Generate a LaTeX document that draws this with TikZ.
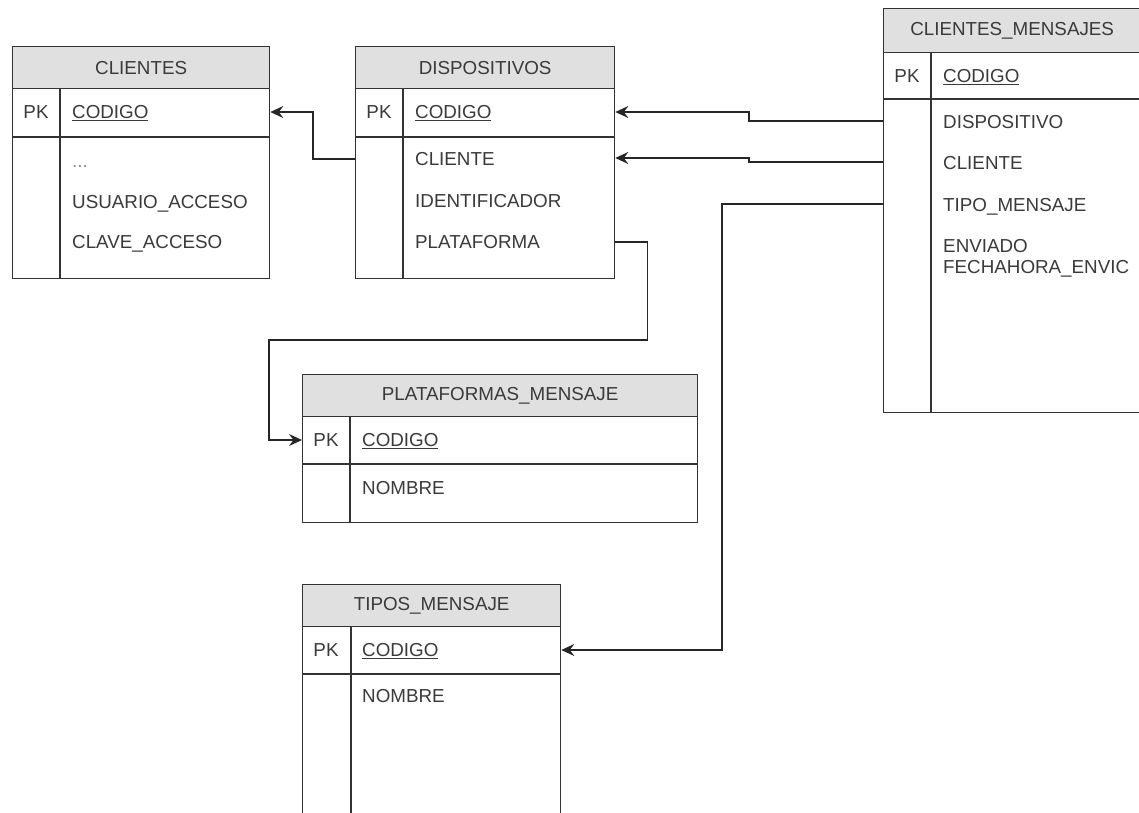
\documentclass[tikz,border=0pt]{standalone}
\usepackage{fontspec}
\setmainfont{Liberation Sans}
\usetikzlibrary{arrows.meta}
\definecolor{linec}{HTML}{333333}
\definecolor{textc}{HTML}{3A3A3A}
\definecolor{hdrfill}{HTML}{E0E0E0}
\tikzset{
  tblbox/.style={draw=linec, line width=1.3pt, fill=white, rectangle, inner sep=0pt, anchor=north west},
  hdrbox/.style={draw=linec, line width=1.3pt, fill=hdrfill, rectangle, inner sep=0pt, anchor=north west,
                 text=textc, font=\fontsize{18.8}{22}\selectfont},
  tblline/.style={draw=linec, line width=1.3pt},
  fld/.style={inner sep=0pt, text height=13.4pt, text depth=0pt, anchor=west, text=textc,
              font=\fontsize{18.8}{22}\selectfont},
  pk/.style={inner sep=0pt, text height=13.4pt, text depth=0pt, anchor=center, text=textc,
              font=\fontsize{18.8}{22}\selectfont},
  conn/.style={draw=black!85, line width=1.3pt, -{Stealth[length=13pt,width=12pt,inset=4.5pt]}},
}
\begin{document}
\begin{tikzpicture}[x=1pt,y=-1pt]
\useasboundingbox (0,0) rectangle (1139,812);
\clip (0,0) rectangle (1139,812);

% ---------- CLIENTES ----------
\node[tblbox, minimum width=257pt, minimum height=232pt] (cli) at (12,46) {};
\node[hdrbox, minimum width=257pt, minimum height=42pt] (clih) at (12,46) {CLIENTES};
\draw[tblline] (12,137) -- (269,137);
\draw[tblline] (60,88) -- (60,278);
\node[pk] (clipkl) at (36,112) {PK};
\node[fld] (clipk) at (72,112) {\underline{CODIGO}};
\node[fld, text=black!45] (clidots) at (72,161) {...};
\node[fld] (cliusr) at (72,202) {USUARIO\_ACCESO};
\node[fld] (clicla) at (72,242) {CLAVE\_ACCESO};

% ---------- DISPOSITIVOS ----------
\node[tblbox, minimum width=259pt, minimum height=232pt] (disp) at (355,46) {};
\node[hdrbox, minimum width=259pt, minimum height=42pt] (disph) at (355,46) {DISPOSITIVOS};
\draw[tblline] (355,137) -- (614,137);
\draw[tblline] (403,88) -- (403,278);
\node[pk] (dpkl) at (379,112) {PK};
\node[fld] (dpk) at (415,112) {\underline{CODIGO}};
\node[fld] (dcli) at (415,159) {CLIENTE};
\node[fld] (dide) at (415,201) {IDENTIFICADOR};
\node[fld] (dplat) at (415,242) {PLATAFORMA};

% ---------- CLIENTES_MENSAJES ----------
\node[tblbox, minimum width=257pt, minimum height=404pt] (cm) at (883,8) {};
\node[hdrbox, minimum width=257pt, minimum height=44pt] (cmh) at (883,8) {CLIENTES\_MENSAJES};
\draw[tblline] (883,99) -- (1140,99);
\draw[tblline] (931,52) -- (931,412);
\node[pk] (cmpkl) at (907,76) {PK};
\node[fld] (cmpk) at (943,76) {\underline{CODIGO}};
\node[fld] (cmdisp) at (943,122) {DISPOSITIVO};
\node[fld] (cmcli) at (943,163) {CLIENTE};
\node[fld] (cmtipo) at (943,205) {TIPO\_MENSAJE};
\node[fld] (cmenv) at (943,246) {ENVIADO};
\node[fld] (cmfec) at (943,267) {FECHAHORA\_ENVIC};

% ---------- PLATAFORMAS_MENSAJE ----------
\node[tblbox, minimum width=395pt, minimum height=148pt] (plat) at (302,374) {};
\node[hdrbox, minimum width=395pt, minimum height=42pt] (plath) at (302,374) {PLATAFORMAS\_MENSAJE};
\draw[tblline] (302,464) -- (697,464);
\draw[tblline] (350,416) -- (350,522);
\node[pk] (ppkl) at (326,440) {PK};
\node[fld] (ppk) at (362,440) {\underline{CODIGO}};
\node[fld] (pnom) at (362,488) {NOMBRE};

% ---------- TIPOS_MENSAJE ----------
\node[tblbox, minimum width=258pt, minimum height=250pt] (tipos) at (302,584) {};
\node[hdrbox, minimum width=258pt, minimum height=42pt] (tiposh) at (302,584) {TIPOS\_MENSAJE};
\draw[tblline] (302,674) -- (560,674);
\draw[tblline] (351,626) -- (351,834);
\node[pk] (tpkl) at (326,650) {PK};
\node[fld] (tpk) at (362,650) {\underline{CODIGO}};
\node[fld] (tnom) at (362,696) {NOMBRE};

% ---------- connectors ----------
\coordinate (platbend) at (269,340);
\draw[conn] (disp.west |- dcli) -- ++(-42,0) |- (cli.east |- clipk);
\draw[conn] (cm.west |- 0,121) -- ++(-134,0) |- (disp.east |- dpk);
\draw[conn] (cm.west |- 0,162) -- ++(-134,0) |- (disp.east |- 0,158);
\draw[conn] (cm.west |- 0,204) -- ++(-161,0) |- (tipos.east |- tpk);
\draw[conn] (disp.east |- dplat) -- ++(32,0) |- (platbend) |- (plat.west |- ppk);
\end{tikzpicture}
\end{document}
